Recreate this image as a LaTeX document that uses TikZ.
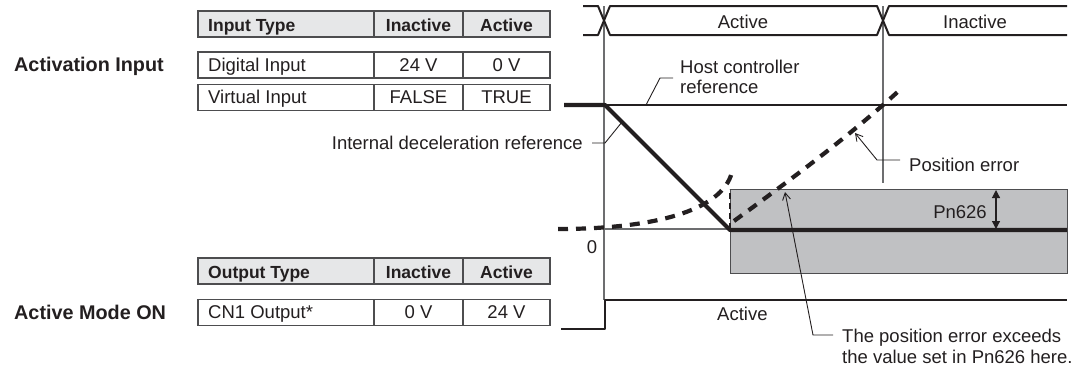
\documentclass[tikz,border=0pt]{standalone}
\usepackage{fontspec}
\setmainfont{Liberation Sans}
\usetikzlibrary{arrows.meta}
\definecolor{ink}{HTML}{231F20}
\definecolor{hdr}{HTML}{E6E7E8}
\definecolor{band}{HTML}{C0C1C3}
\definecolor{guide}{HTML}{6D6E70}
\definecolor{cellline}{HTML}{4D4D4F}
\newcommand\fsreg{\fontsize{18.5pt}{21pt}\selectfont}
\newcommand\fshead{\fontsize{17.5pt}{21pt}\selectfont\bfseries}
\newcommand\fsside{\fontsize{19.8pt}{24pt}\selectfont\bfseries}
\begin{document}
\begin{tikzpicture}[x=1pt,y=-1pt,
  txt/.style={inner sep=0pt, text=ink, font=\fsreg},
  htxt/.style={inner sep=0pt, text=ink, font=\fshead},
  side/.style={inner sep=0pt, text=ink, font=\fsside},
  hcell/.style={draw=cellline, fill=hdr, line width=1.2pt, minimum height=26pt, inner sep=0pt},
  dcell/.style={draw=cellline, fill=white, line width=1.2pt, minimum height=26pt, inner sep=0pt},
  sig/.style={draw=ink, line width=2pt, line join=round},
  thicksig/.style={draw=ink, line width=4.2pt, line join=round},
  dashsig/.style={draw=ink, line width=4.2pt, dash pattern=on 10pt off 8pt},
  guideline/.style={draw=guide, line width=1.1pt},
  leader/.style={draw=ink, line width=0.9pt},
  barb/.style={-{Straight Barb[length=7pt,width=8pt]}},
]
\useasboundingbox (0,0) rectangle (1085,367);

% ---------- side labels ----------
\node[side, anchor=base west] (actin) at (14,71) {Activation Input};
\node[side, anchor=base west] (amon) at (14,319) {Active Mode ON};

% ---------- input table ----------
\node[hcell, minimum width=176pt] (ih1) at (286,24) {};
\node[hcell, minimum width=89pt] (ih2) at (418.5,24) {};
\node[hcell, minimum width=87pt] (ih3) at (506.5,24) {};
\node[htxt, anchor=base west] at (208,31) {Input Type};
\node[htxt, anchor=base] at (418.5,31) {Inactive};
\node[htxt, anchor=base] at (506.5,31) {Active};

\node[dcell, minimum width=176pt] (d11) at (286,65) {};
\node[dcell, minimum width=89pt] (d12) at (418.5,65) {};
\node[dcell, minimum width=87pt] (d13) at (506.5,65) {};
\node[txt, anchor=base west] at (208,71) {Digital Input};
\node[txt, anchor=base] at (418.5,71) {24 V};
\node[txt, anchor=base] at (506.5,71) {0 V};

\node[dcell, minimum width=176pt] (d21) at (286,97.5) {};
\node[dcell, minimum width=89pt] (d22) at (418.5,97.5) {};
\node[dcell, minimum width=87pt] (d23) at (506.5,97.5) {};
\node[txt, anchor=base west] at (208,103) {Virtual Input};
\node[txt, anchor=base] at (418.5,103) {FALSE};
\node[txt, anchor=base] at (506.5,103) {TRUE};

% ---------- output table ----------
\node[hcell, minimum width=176pt] (oh1) at (286,271) {};
\node[hcell, minimum width=89pt] (oh2) at (418.5,271) {};
\node[hcell, minimum width=87pt] (oh3) at (506.5,271) {};
\node[htxt, anchor=base west] at (208,278) {Output Type};
\node[htxt, anchor=base] at (418.5,278) {Inactive};
\node[htxt, anchor=base] at (506.5,278) {Active};

\node[dcell, minimum width=176pt] (o11) at (286,312.5) {};
\node[dcell, minimum width=89pt] (o12) at (418.5,312.5) {};
\node[dcell, minimum width=87pt] (o13) at (506.5,312.5) {};
\node[txt, anchor=base west] at (208,318) {CN1 Output*};
\node[txt, anchor=base] at (418.5,318) {0 V};
\node[txt, anchor=base] at (506.5,318) {24 V};

% ---------- gray band ----------
\draw[fill=band, draw=cellline, line width=1pt] (730,189) rectangle (1067,273);

% ---------- guides ----------
\draw[guideline] (604,6) -- (604,300);
\draw[guideline] (883,6) -- (883,183);
\draw[guideline] (604,229) -- (730,229);

% ---------- activation bus ----------
\draw[sig] (583,6) -- (598,6) -- (610,35) -- (877,35) -- (889,6) -- (1067,6);
\draw[sig] (583,35) -- (598,35) -- (610,6) -- (877,6) -- (889,35) -- (1067,35);
\node[txt, anchor=base] (busact) at (743,28) {Active};
\node[txt, anchor=base] (businact) at (975,28) {Inactive};

% ---------- references ----------
\draw[sig] (604,105) -- (1067,105);
\draw[thicksig] (564,105) -- (605,105) -- (730,230) -- (1067,230);

% ---------- position error ----------
\draw[dashsig] (558,229) .. controls (650,229) and (722,212) .. (732,172);
\draw[draw=ink, line width=2pt, dash pattern=on 6pt off 4pt] (730,229) -- (730,189);
\draw[dashsig] (734,221) .. controls (790,180) and (850,136) .. (903,87);

% ---------- Pn626 ----------
\draw[draw=ink, line width=1.2pt, {Triangle[length=8pt,width=8pt]}-{Triangle[length=8pt,width=8pt]}] (996,190) -- (996,229);
\node[txt, anchor=base] (pn) at (960,218) {Pn626};

% ---------- output signal ----------
\draw[draw=ink, line width=2.5pt, line join=round] (561,329) -- (605,329) -- (605,300) -- (1067,300);
\node[txt, anchor=base west] (outact) at (717,320) {Active};
\node[txt, anchor=base] (zero) at (592,253) {0};

% ---------- labels and leaders ----------
\node[txt, anchor=base west] (host1) at (680,73) {Host controller};
\node[txt, anchor=base west] (host2) at (680,93) {reference};
\coordinate (hostbend) at (660,78);
\coordinate (hosttip) at (646,105);
\draw[leader] ([xshift=-7pt]host1.west |- hostbend) -- (hostbend) -- (hosttip);

\node[txt, anchor=base east] (idr) at (583,149) {Internal deceleration reference};
\coordinate (idrbend) at (605,143);
\coordinate (idrtip) at (622,122);
\draw[leader] ([xshift=9pt]idr.east |- idrbend) -- (idrbend) -- (idrtip);

\node[txt, anchor=base west] (perr) at (909,171) {Position error};
\coordinate (perrbend) at (877,160);
\coordinate (perrtip) at (855,133);
\draw[leader, barb] ([xshift=-9pt]perr.west |- perrbend) -- (perrbend) -- (perrtip);

\node[txt, anchor=base west] (exc1) at (842,342) {The position error exceeds};
\node[txt, anchor=base west] (exc2) at (842,363) {the value set in Pn626 here.};
\coordinate (excbend) at (813,335);
\coordinate (exctip) at (785,192);
\draw[leader, barb] ([xshift=-9pt]exc1.west |- excbend) -- (excbend) -- (exctip);
\end{tikzpicture}
\end{document}
